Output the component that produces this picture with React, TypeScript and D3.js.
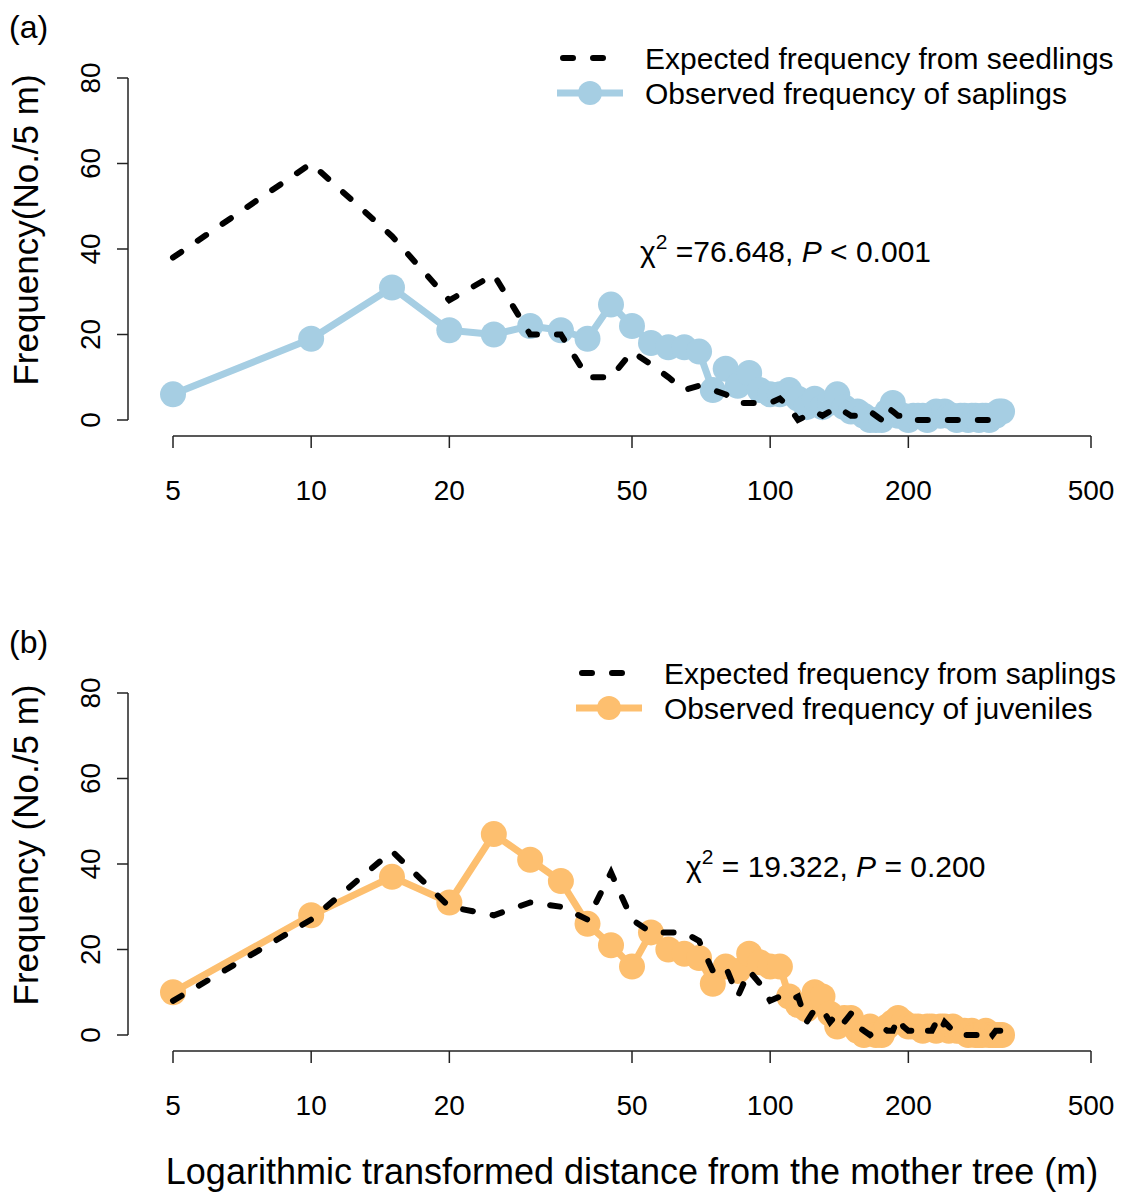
import React, { useEffect, useRef } from "react";
import * as d3 from "d3";

// distance classes (m), every 5 m
const distances = [
  5, 10, 15, 20, 25, 30, 35, 40, 45, 50, 55, 60, 65, 70, 75, 80, 85, 90, 95, 100,
  105, 110, 115, 120, 125, 130, 135, 140, 145, 150, 155, 160, 165, 170, 175, 180,
  185, 190, 195, 200, 205, 210, 215, 220, 225, 230, 235, 240, 245, 250, 255, 260,
  265, 270, 275, 280, 285, 290, 295, 300, 305, 310, 315, 320,
];

// panel (a)
const expectedSeedlings = [
  38, 60, 43, 28, 34, 20, 20, 10, 10, 16, 13, 10, 7, 8, 7, 6, 4, 4, 4, 4,
  5, 3, 0, 1, 2, 1, 2, 3, 2, 1, 1, 2, 2, 1, 0, 3, 2, 1, 1, 0,
  0, 0, 0, 0, 0, 0, 0, 0, 0, 0, 0, 0, 0, 0, 0, 0, 0, 0, 0, 0, 0, 0, 0, 0,
];
const observedSaplings = [
  6, 19, 31, 21, 20, 22, 21, 19, 27, 22, 18, 17, 17, 16, 7, 12, 8, 11, 7, 6,
  6, 7, 5, 3, 5, 3, 4, 6, 3, 2, 2, 1, 0, 0, 0, 2, 4, 1, 1, 0,
  1, 1, 1, 0, 1, 2, 1, 2, 1, 1, 0, 1, 1, 0, 1, 1, 0, 1, 1, 0, 1, 1, 2, 2,
];

// panel (b)
const expectedSaplings = [
  8, 27, 43, 30, 28, 31, 30, 27, 38, 27, 24, 24, 24, 22, 15, 16, 9, 15, 12, 8,
  9, 8, 9, 3, 6, 6, 3, 5, 3, 5, 2, 1, 0, 1, 2, 1, 1, 4, 2, 1,
  1, 1, 2, 1, 1, 3, 1, 3, 2, 1, 1, 0, 0, 0, 0, 0, 0, 0, 0, 1, 0, 1, 1, 1,
];
const observedJuveniles = [
  10, 28, 37, 31, 47, 41, 36, 26, 21, 16, 24, 20, 19, 18, 12, 16, 15, 19, 17, 16,
  16, 9, 7, 6, 10, 9, 5, 2, 4, 4, 1, 0, 2, 0, 0, 2, 3, 4, 3, 2,
  2, 2, 1, 2, 2, 1, 2, 2, 1, 2, 1, 1, 1, 0, 1, 0, 0, 0, 1, 0, 0, 0, 0, 0,
];

const xTicks = [5, 10, 20, 50, 100, 200, 500];
const yTicks = [0, 20, 40, 60, 80];

const FONT = "'Liberation Sans', Arial, sans-serif";

const panels = [
  {
    tag: "(a)", top: 0, expected: expectedSeedlings, observed: observedSaplings,
    color: "#a6cee3", yTitle: "Frequency(No./5 m)",
    legend: ["Expected frequency from seedlings", "Observed frequency of saplings"],
    legendX: 557, chi: ["=76.648, ", " < 0.001"], chiX: 640,
  },
  {
    tag: "(b)", top: 615, expected: expectedSaplings, observed: observedJuveniles,
    color: "#fdbf6f", yTitle: "Frequency (No./5 m)",
    legend: ["Expected frequency from saplings", "Observed frequency of juveniles"],
    legendX: 576, chi: [" = 19.322, ", " = 0.200"], chiX: 686,
  },
];

export default function App() {
  const ref = useRef<SVGSVGElement>(null);

  useEffect(() => {
    const svg = d3.select(ref.current);
    svg.selectAll("*").remove();

    const x = d3.scaleLog().domain([5, 500]).range([173, 1091]);

    panels.forEach((p) => {
      const g = svg.append("g").attr("transform", `translate(0, ${p.top})`);
      const y = d3.scaleLinear().domain([0, 80]).range([420, 78]);

      // y axis
      g.append("line").attr("x1", 128).attr("x2", 128).attr("y1", y(0)).attr("y2", y(80))
        .attr("stroke", "#222").attr("stroke-width", 1.5);
      yTicks.forEach((t) => {
        g.append("line").attr("x1", 117).attr("x2", 128).attr("y1", y(t)).attr("y2", y(t))
          .attr("stroke", "#222").attr("stroke-width", 1.5);
        g.append("text").attr("x", 100).attr("y", y(t))
          .attr("transform", `rotate(-90, 100, ${y(t)})`)
          .attr("text-anchor", "middle").attr("font-size", 28).attr("font-family", FONT)
          .text(t);
      });

      // x axis
      g.append("line").attr("x1", x(5)).attr("x2", x(500)).attr("y1", 436).attr("y2", 436)
        .attr("stroke", "#222").attr("stroke-width", 1.5);
      xTicks.forEach((t) => {
        g.append("line").attr("x1", x(t)).attr("x2", x(t)).attr("y1", 436).attr("y2", 448)
          .attr("stroke", "#222").attr("stroke-width", 1.5);
        g.append("text").attr("x", x(t)).attr("y", 500)
          .attr("text-anchor", "middle").attr("font-size", 28).attr("font-family", FONT)
          .text(t);
      });

      // y title
      g.append("text").attr("x", 38).attr("y", 230)
        .attr("transform", `rotate(-90, 38, 230)`)
        .attr("text-anchor", "middle").attr("font-size", 35).attr("font-family", FONT)
        .text(p.yTitle);

      // panel tag
      g.append("text").attr("x", 9).attr("y", 38).attr("font-size", 32)
        .attr("font-family", FONT).text(p.tag);

      const line = d3.line<number>().x((_, i) => x(distances[i])).y((d) => y(d));

      // observed
      g.append("path").datum(p.observed).attr("d", line).attr("fill", "none")
        .attr("stroke", p.color).attr("stroke-width", 7).attr("stroke-linejoin", "round");
      g.selectAll(".pt").data(p.observed).join("circle")
        .attr("cx", (_, i) => x(distances[i])).attr("cy", (d) => y(d))
        .attr("r", 13).attr("fill", p.color);

      // expected
      g.append("path").datum(p.expected).attr("d", line).attr("fill", "none")
        .attr("stroke", "#000").attr("stroke-width", 6).attr("stroke-linecap", "round")
        .attr("stroke-dasharray", "10 20");

      // legend
      const lx = p.legendX;
      g.append("line").attr("x1", lx + 6).attr("x2", lx + 46).attr("y1", 58).attr("y2", 58)
        .attr("stroke", "#000").attr("stroke-width", 6).attr("stroke-linecap", "round")
        .attr("stroke-dasharray", "10 20");
      g.append("line").attr("x1", lx).attr("x2", lx + 66).attr("y1", 93).attr("y2", 93)
        .attr("stroke", p.color).attr("stroke-width", 7);
      g.append("circle").attr("cx", lx + 33).attr("cy", 93).attr("r", 12).attr("fill", p.color);
      g.append("text").attr("x", lx + 88).attr("y", 69).attr("font-size", 30)
        .attr("font-family", FONT).text(p.legend[0]);
      g.append("text").attr("x", lx + 88).attr("y", 104).attr("font-size", 30)
        .attr("font-family", FONT).text(p.legend[1]);

      // chi-square annotation
      const chi = g.append("text").attr("x", p.chiX).attr("y", 262).attr("font-size", 30)
        .attr("font-family", FONT);
      chi.append("tspan").text("χ");
      chi.append("tspan").attr("dy", -13).attr("font-size", 21).text("2");
      chi.append("tspan").attr("dy", 13).text(" " + p.chi[0].trimStart());
      chi.append("tspan").attr("font-style", "italic").text("P");
      chi.append("tspan").text(p.chi[1]);
    });

    svg.append("text").attr("x", 632).attr("y", 1184).attr("text-anchor", "middle")
      .attr("font-size", 36).attr("font-family", FONT)
      .text("Logarithmic transformed distance from the mother tree (m)");
  }, []);

  return (
    <svg ref={ref} width={1124} height={1193}
      style={{ position: "absolute", left: 0, top: 0, background: "#fff" }} />
  );
}
